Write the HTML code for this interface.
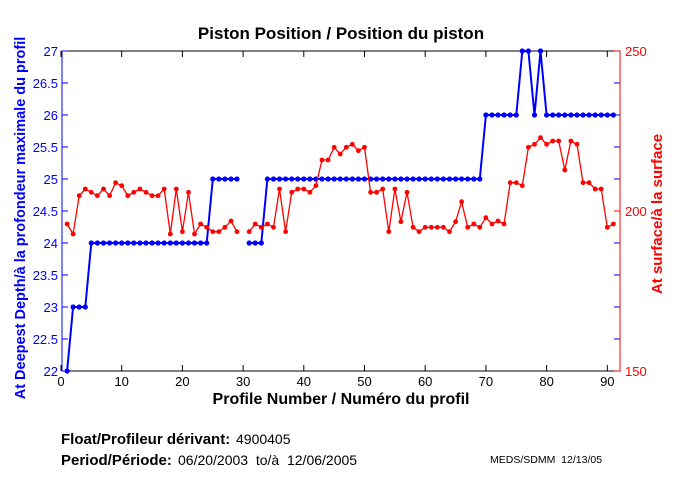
<!DOCTYPE html>
<html><head><meta charset="utf-8"><style>
body{margin:0;background:#fff;}
svg{display:block;font-family:"Liberation Sans",sans-serif;}
</style></head><body>
<svg id="s" width="680" height="500" viewBox="0 0 680 500" xmlns="http://www.w3.org/2000/svg">
<rect width="680" height="500" fill="#fff"/>
<text x="341" y="39" font-size="17" font-weight="bold" text-anchor="middle">Piston Position / Position du piston</text>
<g id="ax"></g>
<text x="341" y="404" font-size="16" font-weight="bold" text-anchor="middle">Profile Number / Numéro du profil</text>
<text transform="translate(25,218) rotate(-90)" font-size="14.5" font-weight="bold" fill="#00f" text-anchor="middle">At Deepest Depth/à la profondeur maximale du profil</text>
<text transform="translate(662,214) rotate(-90)" font-size="15" font-weight="bold" fill="#f00" text-anchor="middle">At surface/à la surface</text>
<text x="61" y="444" font-size="15" font-weight="bold">Float/Profileur dérivant:</text>
<text x="236" y="444" font-size="14">4900405</text>
<text x="61" y="465" font-size="15" font-weight="bold">Period/Période:</text>
<text x="178" y="465" font-size="14" xml:space="preserve" style="white-space:pre">06/20/2003  to/à  12/06/2005</text>
<text x="490" y="463" font-size="10.5" xml:space="preserve" style="white-space:pre">MEDS/SDMM  12/13/05</text>
</svg>
<script>
var L=62,R=620,T=51,B=371;
function X(n){return 61+6.07*n;}
function Yl(v){return B-(v-22)*64;}
var g='';
g+='<rect x="'+L+'" y="'+T+'" width="'+(R-L)+'" height="'+(B-T)+'" fill="none" stroke="#000" stroke-width="1"/>';
g+='<line x1="'+L+'" y1="'+T+'" x2="'+L+'" y2="'+B+'" stroke="#00f"/>';
g+='<line x1="'+R+'" y1="'+T+'" x2="'+R+'" y2="'+B+'" stroke="#f00"/>';
for(var i=0;i<=90;i+=10){var x=X(i);g+='<line x1="'+x+'" y1="'+B+'" x2="'+x+'" y2="'+(B-6)+'" stroke="#000"/><line x1="'+x+'" y1="'+T+'" x2="'+x+'" y2="'+(T+6)+'" stroke="#000"/>';
g+='<text x="'+x+'" y="'+(B+15)+'" font-size="13" text-anchor="middle">'+i+'</text>';}
for(var v=22;v<=27.001;v+=0.5){var y=Yl(v);g+='<line x1="'+L+'" y1="'+y+'" x2="'+(L+6)+'" y2="'+y+'" stroke="#00f"/><line x1="'+R+'" y1="'+y+'" x2="'+(R-6)+'" y2="'+y+'" stroke="#00f"/>';
g+='<text x="'+(L-4)+'" y="'+(y+5)+'" font-size="13" fill="#00f" text-anchor="end">'+(Math.round(v*10)/10)+'</text>';}
[[150,B],[200,(T+B)/2],[250,T]].forEach(function(a){g+='<line x1="'+R+'" y1="'+a[1]+'" x2="'+(R-6)+'" y2="'+a[1]+'" stroke="#f00"/><text x="'+(R+5)+'" y="'+(a[1]+5)+'" font-size="13" fill="#f00">'+a[0]+'</text>';});
var blue={};blue[1]=22;for(i=2;i<=4;i++)blue[i]=23;for(i=5;i<=24;i++)blue[i]=24;for(i=25;i<=29;i++)blue[i]=25;for(i=31;i<=33;i++)blue[i]=24;for(i=34;i<=69;i++)blue[i]=25;for(i=70;i<=75;i++)blue[i]=26;blue[76]=27;blue[77]=27;blue[78]=26;blue[79]=27;for(i=80;i<=91;i++)blue[i]=26;
var rz={1:552,2:582,3:467,4:447,5:457,6:467,7:447,8:467,9:428,10:437,11:467,12:457,13:447,14:457,15:467,16:467,17:447,18:582,19:447,20:575,21:457,22:582,23:552,24:562,25:575,26:575,27:562,28:543,29:575,31:575,32:552,33:562,34:552,35:562,36:447,37:575,38:457,39:447,40:447,41:457,42:437,43:360,44:360,45:322,46:342,47:322,48:313,49:332,50:322,51:457,52:457,53:447,54:575,55:447,56:545,57:457,58:562,59:575,60:562,61:562,62:562,63:562,64:575,65:545,66:485,67:562,68:552,69:562,70:533,71:552,72:543,73:552,74:428,75:428,76:437,77:322,78:313,79:293,80:313,81:303,82:303,83:390,84:303,85:313,86:428,87:428,88:447,89:447,90:562,91:552};
function series(getY,col,w,r){var segs=[],cur=[],dots='';for(var n=1;n<=91;n++){var y=getY(n);if(y==null){if(cur.length)segs.push(cur);cur=[];continue;}var x=X(n);cur.push(x.toFixed(1)+','+y.toFixed(1));dots+='<circle cx="'+x.toFixed(1)+'" cy="'+y.toFixed(1)+'" r="'+r+'" fill="'+col+'"/>';}
if(cur.length)segs.push(cur);var s='';segs.forEach(function(p){s+='<polyline points="'+p.join(' ')+'" fill="none" stroke="'+col+'" stroke-width="'+w+'"/>';});return s+dots;}
g+=series(function(n){return blue[n]==null?null:Yl(blue[n]);},'#00f',2,2.6);
g+=series(function(n){return rz[n]==null?null:40+rz[n]/3;},'#f00',1.3,2.4);
document.getElementById('ax').innerHTML=g;
</script>
</body></html>
